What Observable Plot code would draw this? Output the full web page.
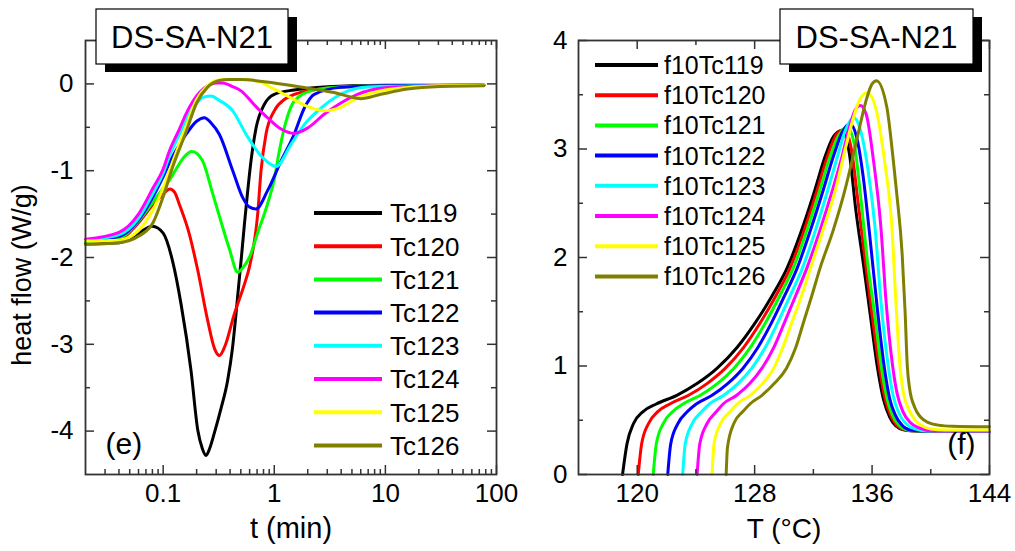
<!DOCTYPE html>
<html><head><meta charset="utf-8">
<script src="https://cdn.jsdelivr.net/npm/d3@7"></script>
<script src="https://cdn.jsdelivr.net/npm/@observablehq/plot@0.6"></script>
<style>
body{margin:0;background:#fff;}
#wrap{position:relative;width:1015px;height:551px;font-family:"Liberation Sans",Arial,sans-serif;}
#wrap svg{position:absolute;top:0;overflow:visible;}
#ylab{position:absolute;left:22px;top:275px;transform:translate(-50%,-50%) rotate(-90deg);white-space:nowrap;font-size:27px;line-height:1;color:#000;}
</style></head><body><div id="wrap"><div id="ylab"></div></div>
<script>
// ---------- data ----------
const seriesColors = ["#000000","#ff0000","#00ff00","#0000ff","#00ffff","#ff00ff","#ffff00","#808000"];
const leftNames = ["Tc119","Tc120","Tc121","Tc122","Tc123","Tc124","Tc125","Tc126"];
const rightNames = ["f10Tc119","f10Tc120","f10Tc121","f10Tc122","f10Tc123","f10Tc124","f10Tc125","f10Tc126"];

// left panel: [t (min), heat flow (W/g)]
const tc119 = [[0.02,-1.84],[0.04,-1.83],[0.06,-1.72],[0.08,-1.64],[0.1,-1.72],[0.122,-2.05],[0.145,-2.54],[0.178,-3.30],[0.205,-3.99],[0.225,-4.2],[0.243,-4.28],[0.262,-4.2],[0.289,-4.02],[0.33,-3.75],[0.38,-3.42],[0.42,-3.05],[0.45,-2.68],[0.48,-2.3],[0.51,-1.95],[0.54,-1.6],[0.58,-1.2],[0.617,-0.89],[0.685,-0.51],[0.81,-0.24],[1.0,-0.12],[1.5,-0.07],[2.0,-0.05],[5,-0.02],[10,-0.015],[77,-0.015]];
const tc120 = [[0.02,-1.82],[0.04,-1.79],[0.06,-1.60],[0.081,-1.39],[0.1,-1.27],[0.115,-1.21],[0.127,-1.25],[0.14,-1.39],[0.172,-1.73],[0.205,-2.15],[0.252,-2.73],[0.29,-3.05],[0.321,-3.13],[0.36,-3.02],[0.437,-2.65],[0.538,-2.31],[0.6,-2.1],[0.709,-1.50],[0.76,-1.0],[0.842,-0.58],[1.0,-0.31],[1.23,-0.18],[2.0,-0.08],[5,-0.03],[10,-0.02],[77,-0.015]];
const tc121 = [[0.02,-1.82],[0.04,-1.78],[0.06,-1.58],[0.081,-1.36],[0.1,-1.2],[0.115,-1.1],[0.131,-0.98],[0.155,-0.84],[0.18,-0.78],[0.2,-0.80],[0.227,-0.89],[0.28,-1.27],[0.32,-1.52],[0.394,-1.9],[0.469,-2.17],[0.52,-2.12],[0.596,-2.0],[0.733,-1.66],[0.813,-1.50],[0.9,-1.32],[1.0,-1.1],[1.1,-0.8],[1.23,-0.51],[1.51,-0.20],[2.14,-0.08],[3.44,-0.04],[10,-0.02],[77,-0.015]];
const tc122 = [[0.02,-1.81],[0.04,-1.76],[0.06,-1.57],[0.081,-1.30],[0.1,-1.07],[0.12,-0.85],[0.14,-0.70],[0.161,-0.58],[0.2,-0.43],[0.235,-0.39],[0.27,-0.45],[0.32,-0.58],[0.423,-1.0],[0.52,-1.31],[0.6,-1.42],[0.685,-1.44],[0.87,-1.23],[1.15,-0.89],[1.51,-0.58],[1.86,-0.28],[2.29,-0.12],[3.97,-0.04],[10,-0.02],[77,-0.015]];
const tc123 = [[0.02,-1.80],[0.04,-1.74],[0.06,-1.55],[0.081,-1.26],[0.1,-1.03],[0.114,-0.83],[0.14,-0.58],[0.16,-0.42],[0.2,-0.22],[0.235,-0.15],[0.27,-0.14],[0.32,-0.19],[0.423,-0.31],[0.557,-0.58],[0.786,-0.85],[1.04,-0.95],[1.41,-0.70],[1.86,-0.47],[2.63,-0.28],[3.71,-0.14],[5.6,-0.05],[9.1,-0.03],[77,-0.015]];
const tc124 = [[0.02,-1.79],[0.04,-1.71],[0.06,-1.50],[0.081,-1.20],[0.1,-0.98],[0.114,-0.77],[0.14,-0.52],[0.16,-0.35],[0.212,-0.10],[0.26,-0.01],[0.3,0.01],[0.344,0.01],[0.42,-0.03],[0.502,-0.08],[0.66,-0.24],[0.87,-0.39],[1.15,-0.52],[1.51,-0.57],[1.99,-0.51],[2.81,-0.35],[3.97,-0.22],[5.6,-0.12],[9.1,-0.05],[15.8,-0.03],[30,-0.02],[77,-0.015]];
const tc125 = [[0.02,-1.81],[0.04,-1.80],[0.06,-1.69],[0.081,-1.45],[0.1,-1.2],[0.12,-0.92],[0.16,-0.5],[0.2,-0.18],[0.25,-0.02],[0.3,0.04],[0.368,0.05],[0.5,0.05],[0.71,0.03],[1.0,-0.06],[1.41,-0.16],[1.99,-0.26],[2.81,-0.31],[3.97,-0.27],[5.6,-0.16],[9.1,-0.08],[15.8,-0.04],[31.4,-0.02],[77,-0.015]];
const tc126 = [[0.02,-1.85],[0.04,-1.83],[0.061,-1.75],[0.081,-1.6],[0.1,-1.3],[0.12,-0.98],[0.16,-0.56],[0.2,-0.22],[0.25,-0.04],[0.32,0.04],[0.394,0.05],[0.5,0.05],[1.0,0.01],[2.0,-0.05],[3.46,-0.10],[5.24,-0.16],[6.0,-0.17],[9.1,-0.12],[15.8,-0.06],[31.4,-0.03],[77,-0.02]];

// right panel: [T (°C), heat flow]
const f10tc119 = [[119.0,0],[119.3,0.28],[119.75,0.47],[120.4,0.58],[121.3,0.65],[122.7,0.73],[124.1,0.84],[125.45,0.98],[126.8,1.17],[128.0,1.39],[129.2,1.65],[130.2,1.9],[131.2,2.25],[132.1,2.62],[132.8,2.93],[133.4,3.12],[133.95,3.17],[134.45,2.96],[134.9,2.43],[135.4,1.95],[135.9,1.45],[136.35,1.0],[136.8,0.68],[137.2,0.53],[137.6,0.45],[138.2,0.41],[139,0.40],[144,0.40]];
const f10tc120 = [[120.07,0],[120.3,0.28],[120.77,0.47],[121.4,0.58],[122.22,0.65],[123.5,0.73],[124.78,0.84],[126.01,0.98],[127.24,1.17],[128.34,1.39],[129.46,1.65],[130.41,1.9],[131.37,2.25],[132.26,2.62],[132.96,2.93],[133.55,3.13],[134.1,3.18],[134.6,2.99],[135.03,2.53],[135.55,1.95],[136.02,1.45],[136.48,1.0],[136.9,0.69],[137.28,0.54],[137.7,0.45],[138.3,0.41],[139.1,0.40],[144,0.40]];
const f10tc121 = [[121.09,0],[121.3,0.28],[121.77,0.47],[122.42,0.58],[123.12,0.65],[124.3,0.73],[125.48,0.84],[126.59,0.98],[127.7,1.17],[128.7,1.39],[129.72,1.65],[130.62,1.9],[131.56,2.25],[132.44,2.62],[133.14,2.93],[133.75,3.13],[134.3,3.20],[134.78,3.05],[135.2,2.59],[135.68,1.97],[136.2,1.45],[136.62,1.0],[137.02,0.7],[137.38,0.55],[137.8,0.46],[138.4,0.41],[139.3,0.40],[144,0.40]];
const f10tc122 = [[122.08,0],[122.28,0.28],[122.77,0.47],[123.42,0.58],[124.02,0.65],[125.1,0.73],[126.18,0.84],[127.21,0.98],[128.22,1.17],[129.12,1.39],[130.05,1.65],[130.89,1.9],[131.8,2.25],[132.67,2.62],[133.36,2.93],[133.95,3.15],[134.5,3.23],[134.95,3.11],[135.4,2.74],[135.85,2.19],[136.38,1.5],[136.82,1.0],[137.2,0.7],[137.58,0.55],[138.0,0.46],[138.6,0.41],[139.5,0.40],[144,0.40]];
const f10tc123 = [[123.1,0],[123.27,0.28],[123.75,0.47],[124.4,0.58],[124.92,0.65],[125.9,0.73],[126.88,0.84],[127.81,0.98],[128.72,1.17],[129.54,1.39],[130.43,1.65],[131.25,1.9],[132.14,2.25],[132.98,2.62],[133.64,2.93],[134.15,3.16],[134.75,3.29],[135.15,3.2],[135.7,2.83],[136.2,2.28],[136.6,1.6],[137.1,1.0],[137.45,0.72],[137.85,0.56],[138.3,0.47],[138.9,0.42],[139.8,0.40],[144,0.40]];
const f10tc124 = [[124.08,0],[124.26,0.28],[124.76,0.47],[125.4,0.58],[125.85,0.65],[126.78,0.73],[127.68,0.84],[128.5,0.98],[129.3,1.17],[130.0,1.39],[130.8,1.65],[131.55,1.9],[132.45,2.25],[133.3,2.62],[133.95,2.93],[134.45,3.2],[134.85,3.36],[135.2,3.40],[135.6,3.32],[136.1,2.89],[136.6,2.28],[136.95,1.6],[137.4,1.0],[137.7,0.75],[138.1,0.58],[138.6,0.48],[139.2,0.43],[140.2,0.40],[144,0.40]];
const f10tc125 = [[125.1,0],[125.23,0.28],[125.68,0.47],[126.33,0.58],[126.8,0.65],[127.7,0.73],[128.55,0.84],[129.3,0.98],[129.92,1.17],[130.5,1.39],[131.2,1.65],[131.8,1.9],[132.65,2.25],[133.5,2.62],[134.05,2.93],[134.55,3.2],[135.05,3.42],[135.67,3.52],[136.3,3.35],[136.85,2.89],[137.35,2.28],[137.62,1.6],[137.9,1.0],[138.1,0.78],[138.5,0.6],[138.95,0.5],[139.4,0.45],[140.0,0.42],[141.0,0.41],[144,0.41]];
const f10tc126 = [[126.06,0],[126.15,0.25],[126.58,0.47],[127.2,0.58],[127.68,0.65],[128.5,0.73],[129.35,0.84],[130.17,0.98],[130.8,1.17],[131.3,1.39],[131.9,1.65],[132.45,1.9],[133.35,2.25],[134.15,2.62],[134.7,2.93],[135.15,3.2],[135.6,3.45],[136.0,3.6],[136.3,3.63],[137.0,3.39],[137.45,2.89],[137.68,2.59],[138.05,2.03],[138.25,1.5],[138.4,1.0],[138.55,0.8],[138.9,0.62],[139.3,0.53],[139.8,0.48],[140.5,0.455],[141.5,0.445],[144,0.44]];

const leftSeries = [tc119, tc120, tc121, tc122, tc123, tc124, tc125, tc126];
const rightSeries = [f10tc119, f10tc120, f10tc121, f10tc122, f10tc123, f10tc124, f10tc125, f10tc126];

const leftXMajor = [0.1, 1, 10, 100];
const leftXMinor = [0.03,0.04,0.05,0.06,0.07,0.08,0.09,0.2,0.3,0.4,0.5,0.6,0.7,0.8,0.9,2,3,4,5,6,7,8,9,20,30,40,50,60,70,80,90];
const leftYMajor = [0, -1, -2, -3, -4];
const leftYMinor = [-0.5, -1.5, -2.5, -3.5];
const rightXMajor = [120, 128, 136, 144];
const rightXMinor = [124, 132, 140];
const rightYMajor = [0, 1, 2, 3, 4];
const rightYMinor = [0.5, 1.5, 2.5, 3.5];
const titleText = "DS-SA-N21";
const leftYLabel = "heat flow (W/g)";

// ---------- helpers ----------
const FONT = '"Liberation Sans", Arial, sans-serif';
const AX = "#333";
function toRows(names, series) {
  const rows = [];
  series.forEach((s, i) => s.forEach(([x, y]) => rows.push({series: names[i], x, y})));
  return rows;
}
function legendMark(names, x0, x1, tx, y0, dy, fs) {
  return () => {
    const g = d3.create("svg:g");
    names.forEach((n, i) => {
      const y = y0 + i * dy;
      g.append("line").attr("x1", x0).attr("x2", x1).attr("y1", y).attr("y2", y)
        .attr("stroke", seriesColors[i]).attr("stroke-width", 4);
      g.append("text").attr("x", tx).attr("y", y).attr("dy", "0.36em").attr("text-anchor", "start")
        .attr("font-size", fs).attr("fill", "#000").attr("font-family", FONT).text(n);
    });
    return g.node();
  };
}
function titleBox(x, y, w, h, fs) {
  return () => {
    const g = d3.create("svg:g");
    g.append("rect").attr("x", x + 9).attr("y", y + 8).attr("width", w).attr("height", h).attr("fill", "#000");
    g.append("rect").attr("x", x).attr("y", y).attr("width", w).attr("height", h)
      .attr("fill", "#fff").attr("stroke", "#000").attr("stroke-width", 1.2);
    g.append("text").attr("x", x + w / 2).attr("y", y + h / 2).attr("dy", "0.36em")
      .attr("text-anchor", "middle").attr("font-size", fs).attr("font-family", FONT).attr("fill", "#000").text(titleText);
    return g.node();
  };
}
function frameTicks(xMaj, xMin, yMaj, yMin, fw, fh) {
  const o = {stroke: AX, strokeWidth: 1.5};
  return [
    Plot.tickX(xMaj, {x: d => d, insetTop: fh - 9, ...o}),
    Plot.tickX(xMaj, {x: d => d, insetBottom: fh - 9, ...o}),
    Plot.tickX(xMin, {x: d => d, insetTop: fh - 5, ...o}),
    Plot.tickX(xMin, {x: d => d, insetBottom: fh - 5, ...o}),
    Plot.tickY(yMaj, {y: d => d, insetRight: fw - 9, ...o}),
    Plot.tickY(yMaj, {y: d => d, insetLeft: fw - 9, ...o}),
    Plot.tickY(yMin, {y: d => d, insetRight: fw - 5, ...o}),
    Plot.tickY(yMin, {y: d => d, insetLeft: fw - 5, ...o}),
    Plot.frame({stroke: AX, strokeWidth: 1.8})
  ];
}
const svgStyle = {background: "transparent", overflow: "visible", fontFamily: FONT, maxWidth: "none"};

// ---------- left panel ----------
const L = {w: 505, h: 551, ml: 85, mr: 9, mt: 40, mb: 77};
const Lfw = L.w - L.ml - L.mr, Lfh = L.h - L.mt - L.mb;
const left = Plot.plot({
  width: L.w, height: L.h,
  marginLeft: L.ml, marginRight: L.mr, marginTop: L.mt, marginBottom: L.mb,
  style: svgStyle,
  x: {type: "log", domain: [0.02, 100], axis: null},
  y: {domain: [-4.5, 0.5], axis: null},
  color: {domain: leftNames, range: seriesColors},
  marks: [
    Plot.line(toRows(leftNames, leftSeries), {x: "x", y: "y", z: "series", stroke: "series", strokeWidth: 3, curve: "monotone-x"}),
    ...frameTicks(leftXMajor, leftXMinor, leftYMajor, leftYMinor, Lfw, Lfh),
    Plot.text(leftXMajor, {x: d => d, frameAnchor: "bottom", dy: 27, textAnchor: "middle", text: d => String(d), fontSize: 26, fill: "#000"}),
    Plot.text(leftYMajor, {y: d => d, frameAnchor: "left", dx: -12, textAnchor: "end", text: d => String(d), fontSize: 26, fill: "#000"}),
    Plot.text(["t (min)"], {frameAnchor: "bottom", dy: 63, textAnchor: "middle", fontSize: 29, fill: "#000"}),
    Plot.text(["(e)"], {frameAnchor: "bottom-left", dx: 20, dy: -21, textAnchor: "start", fontSize: 30, fill: "#000"}),
    legendMark(leftNames, 314, 382, 390, 213, 33.2, 26),
    titleBox(96, 9, 192, 55, 31)
  ]
});
left.style.left = "0px";

// ---------- right panel ----------
const R = {w: 510, h: 551, ml: 73, mr: 26, mt: 40, mb: 77};
const Rfw = R.w - R.ml - R.mr, Rfh = R.h - R.mt - R.mb;
const right = Plot.plot({
  width: R.w, height: R.h,
  marginLeft: R.ml, marginRight: R.mr, marginTop: R.mt, marginBottom: R.mb,
  style: svgStyle,
  x: {domain: [116, 144], axis: null},
  y: {domain: [0, 4], axis: null},
  color: {domain: rightNames, range: seriesColors},
  marks: [
    Plot.line(toRows(rightNames, rightSeries), {x: "x", y: "y", z: "series", stroke: "series", strokeWidth: 3, curve: "monotone-x"}),
    ...frameTicks(rightXMajor, rightXMinor, rightYMajor, rightYMinor, Rfw, Rfh),
    Plot.text(rightXMajor, {x: d => d, frameAnchor: "bottom", dy: 27, textAnchor: "middle", text: d => String(d), fontSize: 26, fill: "#000"}),
    Plot.text(rightYMajor, {y: d => d, frameAnchor: "left", dx: -11, textAnchor: "end", text: d => String(d), fontSize: 26, fill: "#000"}),
    Plot.text(["T (°C)"], {frameAnchor: "bottom", dy: 63, textAnchor: "middle", fontSize: 28, fill: "#000"}),
    Plot.text(["(f)"], {frameAnchor: "bottom-right", dx: -14, dy: -21, textAnchor: "end", fontSize: 30, fill: "#000"}),
    legendMark(rightNames, 90, 153, 159, 65, 30.2, 25),
    titleBox(275, 9, 193, 55, 31)
  ]
});
right.style.left = "505px";

const wrap = document.getElementById("wrap");
wrap.appendChild(left);
wrap.appendChild(right);
document.getElementById("ylab").textContent = leftYLabel;
</script></body></html>
